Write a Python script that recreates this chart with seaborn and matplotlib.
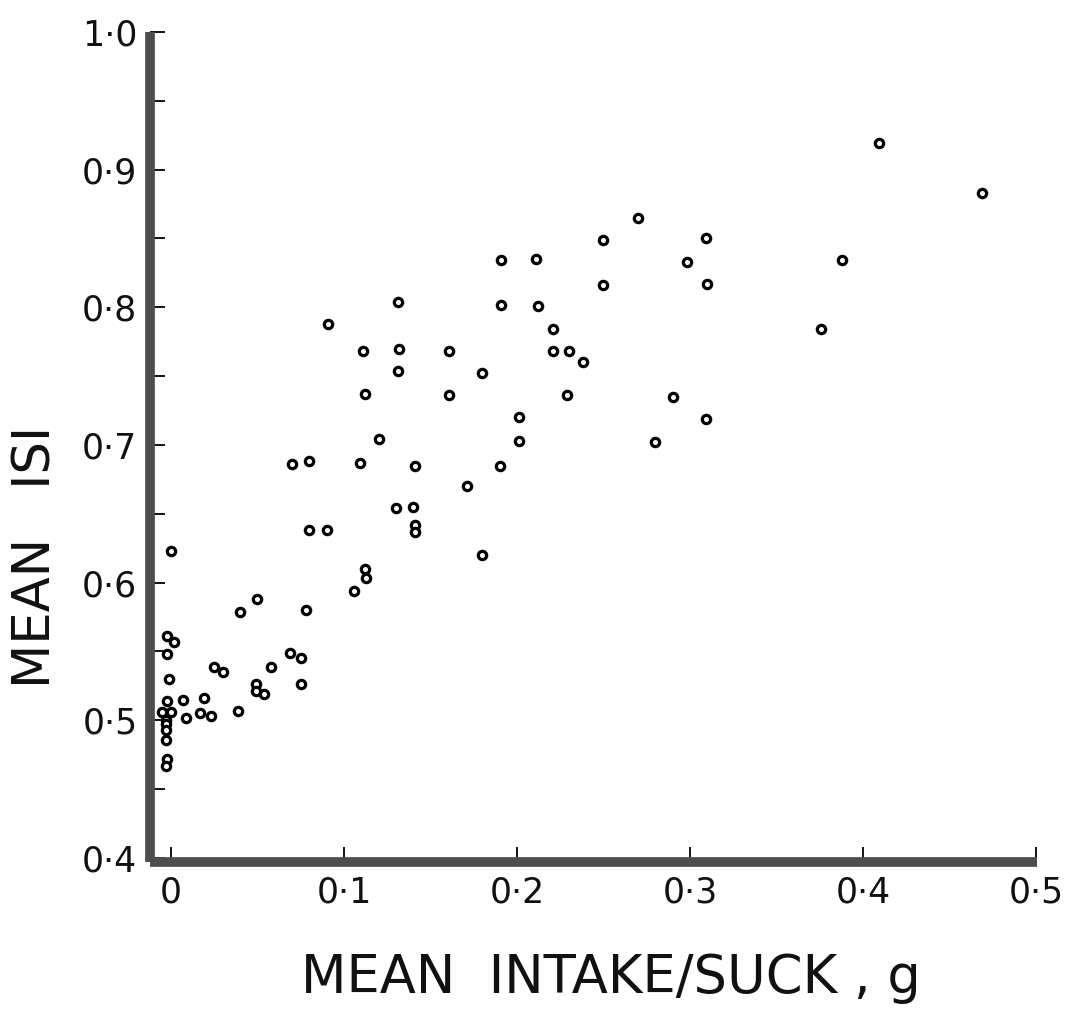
import numpy as np
import pandas as pd
import seaborn as sns
import matplotlib
matplotlib.use("Agg")
import matplotlib.pyplot as plt
from matplotlib.ticker import MultipleLocator, FixedLocator

# mean intake per suck (g) and mean inter-suck interval
intake = [0.409, 0.469, 0.270, 0.250, 0.309, 0.191, 0.211, 0.298, 0.388,
          0.250, 0.310, 0.131, 0.191, 0.212, 0.091, 0.376, 0.221, 0.111,
          0.132, 0.161, 0.221, 0.230, 0.238, 0.131, 0.180, 0.112, 0.161,
          0.229, 0.290, 0.201, 0.309, 0.120, 0.201, 0.280, 0.070, 0.080,
          0.109, 0.141, 0.190, 0.171, 0.130, 0.140, 0.141, 0.141, 0.080,
          0.090, 0.180, 0.112, 0.113, 0.106, 0.078, 0.000, 0.050, 0.040,
          -0.002, 0.002, -0.002, 0.069, 0.075, 0.025, 0.030, 0.058, -0.001,
          0.049, 0.049, 0.054, 0.075, -0.002, 0.007, 0.019, -0.005, 0.000,
          0.017, 0.009, 0.023, 0.039, -0.003, -0.003, -0.003, -0.003,
          -0.002, -0.003]
isi = [0.919, 0.883, 0.865, 0.849, 0.850, 0.834, 0.835, 0.833, 0.834,
       0.816, 0.817, 0.804, 0.802, 0.801, 0.788, 0.784, 0.784, 0.768,
       0.770, 0.768, 0.768, 0.768, 0.760, 0.754, 0.752, 0.737, 0.736,
       0.736, 0.735, 0.720, 0.719, 0.704, 0.703, 0.702, 0.686, 0.688,
       0.687, 0.685, 0.685, 0.670, 0.654, 0.655, 0.642, 0.637, 0.638,
       0.638, 0.620, 0.610, 0.603, 0.594, 0.580, 0.623, 0.588, 0.579,
       0.561, 0.557, 0.548, 0.549, 0.545, 0.539, 0.535, 0.539, 0.530,
       0.526, 0.521, 0.519, 0.526, 0.514, 0.515, 0.516, 0.506, 0.506,
       0.505, 0.502, 0.503, 0.507, 0.500, 0.497, 0.493, 0.486, 0.472,
       0.467]

x_ticks = [0, 0.1, 0.2, 0.3, 0.4, 0.5]
x_labels = ["0", "0·1", "0·2", "0·3", "0·4", "0·5"]
y_ticks = [0.4, 0.5, 0.6, 0.7, 0.8, 0.9, 1.0]
y_labels = ["0·4", "0·5", "0·6", "0·7", "0·8", "0·9", "1·0"]

df = pd.DataFrame({"intake": intake, "isi": isi})

sns.set_style("ticks")
plt.rcParams["font.family"] = ["DejaVu Sans"]

fig = plt.figure(figsize=(10.66, 10.15), dpi=100)
ax = fig.add_axes([0.1407, 0.1507, 0.832, 0.8178])

sns.scatterplot(data=df, x="intake", y="isi", ax=ax, marker="o", s=36,
                facecolor="white", edgecolor="black", linewidth=2.3,
                zorder=3, clip_on=False)

ax.set_xlim(-0.0121, 0.5005)
ax.set_ylim(0.397, 1.0)

ax.xaxis.set_major_locator(FixedLocator(x_ticks))
ax.set_xticklabels(x_labels)
ax.yaxis.set_major_locator(FixedLocator(y_ticks))
ax.set_yticklabels(y_labels)
ax.yaxis.set_minor_locator(MultipleLocator(0.05))

ax.tick_params(axis="both", which="both", direction="in", length=11,
               width=1.3, color="black", labelsize=25, labelcolor="#111111")
ax.tick_params(axis="y", which="both", pad=9)
ax.tick_params(axis="x", which="both", pad=10)

for side in ["top", "right"]:
    ax.spines[side].set_visible(False)
for side in ["left", "bottom"]:
    ax.spines[side].set_linewidth(7)
    ax.spines[side].set_color("#4d4d4d")
    ax.spines[side].set_capstyle("butt")

ax.set_xlabel("MEAN  INTAKE/SUCK , g", fontsize=38, color="#111111")
ax.set_ylabel("MEAN   ISI", fontsize=37, color="#111111")
ax.xaxis.set_label_coords(0.52, -0.108)
ax.yaxis.set_label_coords(-0.1, 0.367)

fig.savefig("out.png", dpi=100)
